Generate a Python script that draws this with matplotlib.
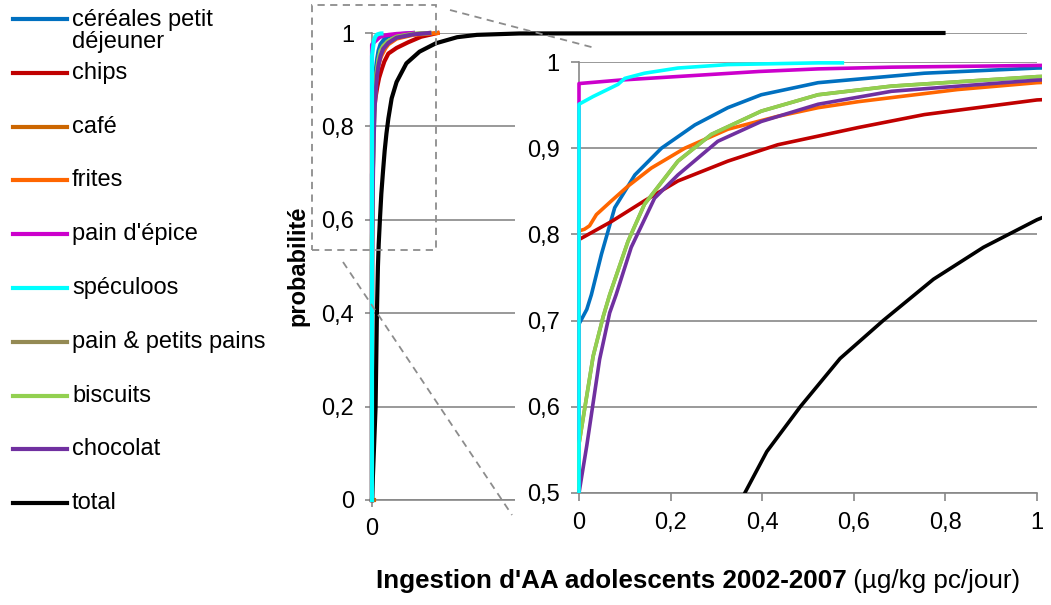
import numpy as np
import matplotlib
matplotlib.use("Agg")
import matplotlib.pyplot as plt
from matplotlib.lines import Line2D
from matplotlib.patches import Rectangle

plt.rcParams['font.family'] = ['Liberation Sans', 'DejaVu Sans']

# données (courbes de probabilité cumulée)
cereales_x = [0, 0, 0.017, 0.027, 0.049, 0.078, 0.122, 0.18, 0.253, 0.325, 0.398, 0.522, 0.754, 1.0, 1.5, 2.5]
cereales_y = [0, 0.696, 0.713, 0.73, 0.777, 0.831, 0.869, 0.9, 0.927, 0.947, 0.962, 0.976, 0.987, 0.993, 0.997, 1.0]

chips_x = [0, 0, 0.071, 0.143, 0.216, 0.325, 0.434, 0.522, 0.61, 0.754, 1.0, 1.5, 2.2, 3.0, 4.0]
chips_y = [0, 0.794, 0.815, 0.839, 0.862, 0.885, 0.904, 0.914, 0.924, 0.939, 0.956, 0.968, 0.98, 0.992, 1.0]

cafe_x = [0, 0.1]
cafe_y = [0, 0]

frites_x = [0, 0, 0.012, 0.023, 0.038, 0.071, 0.107, 0.158, 0.231, 0.325, 0.434, 0.522, 0.61, 0.826, 1.0, 1.5, 2.5, 4.0]
frites_y = [0, 0.804, 0.806, 0.81, 0.823, 0.839, 0.856, 0.877, 0.9, 0.922, 0.937, 0.947, 0.954, 0.968, 0.976, 0.988, 0.996, 1.0]

epice_x = [0, 0, 0.089, 0.393, 0.522, 0.682, 1.0, 1.5, 2.5]
epice_y = [0, 0.975, 0.979, 0.989, 0.992, 0.994, 0.996, 0.998, 1.0]

speculoos_x = [0, 0, 0.031, 0.085, 0.1, 0.143, 0.216, 0.325, 0.522, 0.575]
speculoos_y = [0, 0.951, 0.96, 0.974, 0.981, 0.987, 0.993, 0.997, 0.999, 0.999]

pain_x = [0, 0, 0.031, 0.053, 0.067, 0.107, 0.143, 0.216, 0.289, 0.398, 0.522, 0.682, 1.0, 1.5, 2.5, 3.5]
pain_y = [0, 0.557, 0.659, 0.705, 0.73, 0.792, 0.835, 0.885, 0.916, 0.943, 0.962, 0.972, 0.983, 0.992, 0.998, 1.0]

biscuits_x = [0, 0, 0.031, 0.053, 0.067, 0.107, 0.143, 0.216, 0.289, 0.398, 0.522, 0.682, 1.0, 1.5, 2.5, 3.5]
biscuits_y = [0, 0.557, 0.659, 0.705, 0.73, 0.792, 0.835, 0.885, 0.916, 0.943, 0.962, 0.972, 0.983, 0.992, 0.998, 1.0]

chocolat_x = [0, 0, 0.017, 0.045, 0.067, 0.081, 0.114, 0.165, 0.216, 0.303, 0.398, 0.522, 0.682, 1.0, 1.5, 2.5, 3.5]
chocolat_y = [0, 0.5, 0.555, 0.655, 0.709, 0.73, 0.785, 0.842, 0.869, 0.908, 0.931, 0.951, 0.966, 0.979, 0.99, 0.997, 1.0]

total_x = [0, 0.22, 0.3, 0.362, 0.41, 0.483, 0.57, 0.664, 0.774, 0.883, 1.0, 1.2, 1.5, 2.1, 2.9, 3.9, 5.2, 6.4, 9.0, 34.9]
total_y = [0, 0.2, 0.4, 0.5, 0.548, 0.6, 0.656, 0.7, 0.748, 0.785, 0.817, 0.86, 0.895, 0.935, 0.96, 0.978, 0.991, 0.996, 0.999, 1.0]

labels = ["céréales petit\ndéjeuner", "chips", "café", "frites", "pain d'épice",
          "spéculoos", "pain & petits pains", "biscuits", "chocolat", "total"]
xs = [cereales_x, chips_x, cafe_x, frites_x, epice_x, speculoos_x, pain_x, biscuits_x, chocolat_x, total_x]
ys = [cereales_y, chips_y, cafe_y, frites_y, epice_y, speculoos_y, pain_y, biscuits_y, chocolat_y, total_y]
colors = ["#0070C0", "#C00000", "#CC6600", "#FF6600", "#CC00CC",
          "#00FFFF", "#948A54", "#92D050", "#7030A0", "#000000"]

W, H = 1051, 605
grid_c = "#878787"
fs = 17

def fx(px):
    return px / W

def fy(py):
    return 1 - py / H

def virgule(v):
    s = ("%.1f" % v).rstrip("0").rstrip(".")
    return s.replace(".", ",")

fig = plt.figure(figsize=(W / 100, H / 100), dpi=100)

# graphique principal
ax = fig.add_axes([fx(372), fy(500), fx(1027) - fx(372), fy(33) - fy(500)])
ax.set_xlim(0, 40)
ax.set_ylim(0, 1)
yt = np.arange(0, 1.01, 0.2)
ax.set_yticks(yt)
ax.set_yticklabels([virgule(v) for v in yt], fontsize=fs)
ax.set_xticks([0, 10, 20, 30, 40])
ax.set_xticklabels(["0", "", "", "", ""], fontsize=fs)
ax.grid(axis="y", color=grid_c, lw=1.2)
ax.set_axisbelow(True)
for s in ["top", "right"]:
    ax.spines[s].set_visible(False)
for s in ["left", "bottom"]:
    ax.spines[s].set_color(grid_c)
    ax.spines[s].set_linewidth(1.2)
ax.tick_params(colors=grid_c, labelcolor="black", length=5, width=1.2, pad=8)

for x, y, c in zip(xs, ys, colors):
    z = 4 if c == "#00FFFF" else 3
    ax.plot(x, y, color=c, lw=3, clip_on=False, zorder=z, solid_joinstyle="round")

# cache blanc derrière le zoom
fig.add_artist(Rectangle((fx(515), fy(548)), fx(1051) - fx(515), fy(42) - fy(548),
                         transform=fig.transFigure, facecolor="white", edgecolor="none", zorder=1))

# zoom 0-1
ins = fig.add_axes([fx(579), fy(493), fx(1037) - fx(579), fy(62) - fy(493)])
ins.set_zorder(2)
ins.set_xlim(0, 1)
ins.set_ylim(0.5, 1)
xt = np.arange(0, 1.01, 0.2)
ins.set_xticks(xt)
ins.set_xticklabels([virgule(v) for v in xt], fontsize=fs)
yt2 = np.arange(0.5, 1.01, 0.1)
ins.set_yticks(yt2)
ins.set_yticklabels([virgule(v) for v in yt2], fontsize=fs)
ins.grid(axis="y", color=grid_c, lw=1.2)
ins.set_axisbelow(True)
for s in ["top", "right"]:
    ins.spines[s].set_visible(False)
for s in ["left", "bottom"]:
    ins.spines[s].set_color(grid_c)
    ins.spines[s].set_linewidth(1.2)
ins.tick_params(colors=grid_c, labelcolor="black", length=6, width=1.2, pad=8)

clip = Rectangle((-0.01, 0), 1.02, 1.01, transform=ins.transAxes)
for x, y, c in zip(xs, ys, colors):
    z = 4 if c == "#00FFFF" else 3
    ln, = ins.plot(x, y, color=c, lw=2.6, zorder=z, solid_joinstyle="round")
    ln.set_clip_path(clip)

# cadre et lignes de zoom en pointillés
dash = dict(color="#8c8c8c", lw=1.3, ls=(0, (4, 3)), transform=fig.transFigure, zorder=5)
fig.add_artist(Rectangle((fx(312), fy(250)), fx(436) - fx(312), fy(5) - fy(250),
                         fill=False, edgecolor="#8c8c8c", lw=1.3, ls=(0, (4, 3)),
                         transform=fig.transFigure, zorder=5))
fig.add_artist(Line2D([fx(450), fx(595)], [fy(10), fy(48)], **dash))
fig.add_artist(Line2D([fx(343), fx(512)], [fy(262), fy(515)], **dash))

# légende à gauche
for i, (lab, c) in enumerate(zip(labels, colors)):
    yl = 19 + 53.8 * i
    fig.add_artist(Line2D([fx(13), fx(67)], [fy(yl), fy(yl)], color=c, lw=3,
                          transform=fig.transFigure))
    yt_ = yl + 12 if "\n" in lab else yl
    fig.text(fx(72), fy(yt_), lab, fontsize=fs, va="center", ha="left", linespacing=1.0)

# titres des axes
fig.text(fx(298), fy(266), "probabilité", rotation=90, fontweight="bold",
         fontsize=fs, ha="center", va="center")
t1 = fig.text(0, fy(581), "Ingestion d'AA adolescents 2002-2007", fontweight="bold",
              fontsize=18.7, ha="left", va="center")
t2 = fig.text(0, fy(581), " (µg/kg pc/jour)", fontsize=18.7, ha="left", va="center")
fig.canvas.draw()
r = fig.canvas.get_renderer()
w1 = t1.get_window_extent(r).width
w2 = t2.get_window_extent(r).width
x0 = 698 - (w1 + w2) / 2
t1.set_x(fx(x0))
t2.set_x(fx(x0 + w1))

fig.savefig("out.png", dpi=100)
